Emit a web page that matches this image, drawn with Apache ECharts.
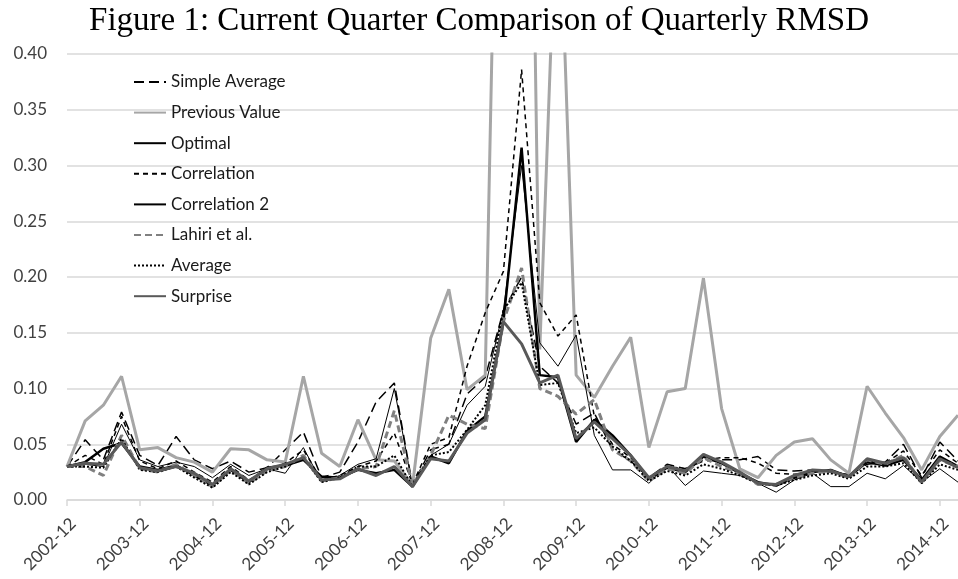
<!DOCTYPE html>
<html>
<head>
<meta charset="utf-8">
<script src="https://cdn.jsdelivr.net/npm/echarts@6/dist/echarts.min.js"></script>
<style>
  html, body { margin: 0; padding: 0; background: #fff; }
  #chart { width: 958px; height: 579px; }
</style>
</head>
<body>
<div id="chart"></div>
<script>
  const quarters = [
    '2002-12', '2003-03', '2003-06', '2003-09', '2003-12', '2004-03', '2004-06', '2004-09', '2004-12', '2005-03',
    '2005-06', '2005-09', '2005-12', '2006-03', '2006-06', '2006-09', '2006-12', '2007-03', '2007-06', '2007-09',
    '2007-12', '2008-03', '2008-06', '2008-09', '2008-12', '2009-03', '2009-06', '2009-09', '2009-12', '2010-03',
    '2010-06', '2010-09', '2010-12', '2011-03', '2011-06', '2011-09', '2011-12', '2012-03', '2012-06', '2012-09',
    '2012-12', '2013-03', '2013-06', '2013-09', '2013-12', '2014-03', '2014-06', '2014-09', '2014-12', '2015-03'
  ]
  const yTicks = [0, 0.05, 0.1, 0.15, 0.2, 0.25, 0.3, 0.35, 0.4]

  const simpleAverage = [
    0.030, 0.054, 0.036, 0.079, 0.040, 0.031, 0.057, 0.036, 0.028, 0.035,
    0.025, 0.029, 0.045, 0.061, 0.020, 0.025, 0.052, 0.088, 0.105, 0.013,
    0.045, 0.050, 0.095, 0.110, 0.170, 0.200, 0.120, 0.105, 0.068, 0.078,
    0.045, 0.035, 0.020, 0.032, 0.028, 0.035, 0.036, 0.036, 0.039, 0.027,
    0.026, 0.027, 0.025, 0.023, 0.032, 0.034, 0.050, 0.020, 0.052, 0.035
  ]
  const previousValue = [
    0.030, 0.071, 0.085, 0.111, 0.045, 0.047, 0.038, 0.034, 0.025, 0.046,
    0.045, 0.036, 0.034, 0.111, 0.042, 0.030, 0.072, 0.036, 0.035, 0.013,
    0.145, 0.189, 0.099, 0.112, 0.900, 1.200, 0.135, 0.580, 0.112, 0.092,
    0.120, 0.146, 0.047, 0.097, 0.100, 0.199, 0.082, 0.028, 0.020, 0.040,
    0.052, 0.055, 0.036, 0.024, 0.102, 0.078, 0.056, 0.027, 0.057, 0.076
  ]
  const optimal = [
    0.030, 0.034, 0.046, 0.051, 0.030, 0.027, 0.031, 0.022, 0.013, 0.027,
    0.016, 0.029, 0.031, 0.036, 0.021, 0.020, 0.027, 0.024, 0.027, 0.012,
    0.039, 0.033, 0.062, 0.075, 0.160, 0.316, 0.112, 0.110, 0.052, 0.072,
    0.058, 0.040, 0.019, 0.029, 0.025, 0.039, 0.033, 0.024, 0.016, 0.013,
    0.020, 0.025, 0.027, 0.021, 0.034, 0.031, 0.036, 0.018, 0.039, 0.030
  ]
  const correlation = [
    0.030, 0.040, 0.032, 0.075, 0.035, 0.028, 0.035, 0.025, 0.016, 0.030,
    0.018, 0.027, 0.033, 0.045, 0.018, 0.022, 0.030, 0.035, 0.060, 0.014,
    0.050, 0.056, 0.120, 0.168, 0.205, 0.386, 0.177, 0.147, 0.166, 0.075,
    0.050, 0.038, 0.020, 0.030, 0.028, 0.036, 0.038, 0.038, 0.033, 0.024,
    0.023, 0.025, 0.026, 0.022, 0.035, 0.033, 0.044, 0.022, 0.045, 0.033
  ]
  const correlation2 = [
    0.030, 0.032, 0.030, 0.068, 0.036, 0.030, 0.034, 0.030, 0.020, 0.032,
    0.022, 0.028, 0.024, 0.047, 0.016, 0.022, 0.032, 0.037, 0.100, 0.013,
    0.040, 0.050, 0.085, 0.102, 0.170, 0.300, 0.141, 0.120, 0.148, 0.058,
    0.027, 0.027, 0.015, 0.031, 0.013, 0.026, 0.024, 0.022, 0.015, 0.007,
    0.018, 0.024, 0.012, 0.012, 0.024, 0.019, 0.031, 0.016, 0.028, 0.016
  ]
  const lahiri = [
    0.030, 0.030, 0.022, 0.058, 0.028, 0.025, 0.032, 0.022, 0.012, 0.027,
    0.015, 0.026, 0.030, 0.040, 0.017, 0.020, 0.028, 0.030, 0.080, 0.013,
    0.040, 0.076, 0.068, 0.064, 0.160, 0.208, 0.100, 0.093, 0.077, 0.090,
    0.045, 0.035, 0.017, 0.028, 0.024, 0.038, 0.030, 0.024, 0.014, 0.014,
    0.020, 0.024, 0.026, 0.020, 0.036, 0.032, 0.040, 0.015, 0.036, 0.030
  ]
  const average = [
    0.030, 0.030, 0.029, 0.055, 0.027, 0.025, 0.030, 0.020, 0.011, 0.025,
    0.014, 0.025, 0.030, 0.038, 0.016, 0.020, 0.030, 0.030, 0.040, 0.012,
    0.040, 0.043, 0.063, 0.085, 0.170, 0.195, 0.103, 0.105, 0.060, 0.065,
    0.048, 0.035, 0.017, 0.026, 0.022, 0.032, 0.028, 0.022, 0.015, 0.013,
    0.018, 0.022, 0.024, 0.019, 0.030, 0.030, 0.033, 0.015, 0.032, 0.027
  ]
  const surprise = [
    0.030, 0.033, 0.032, 0.052, 0.029, 0.026, 0.030, 0.024, 0.014, 0.028,
    0.017, 0.028, 0.032, 0.038, 0.018, 0.019, 0.028, 0.022, 0.030, 0.012,
    0.037, 0.035, 0.060, 0.072, 0.160, 0.140, 0.105, 0.112, 0.055, 0.070,
    0.055, 0.040, 0.020, 0.030, 0.026, 0.041, 0.034, 0.025, 0.015, 0.014,
    0.022, 0.027, 0.026, 0.021, 0.037, 0.033, 0.038, 0.016, 0.037, 0.029
  ]

  const axisFont = 'Lato, "Open Sans", sans-serif'
  const gridColor = '#d9d9d9'

  function makeLine(name, data, color, width, type) {
    return {
      name: name,
      type: 'line',
      data: data,
      symbol: 'none',
      showSymbol: false,
      clip: true,
      lineStyle: { color: color, width: width, type: type },
      itemStyle: { color: color },
      emphasis: { disabled: true }
    }
  }

  const myChart = echarts.init(document.getElementById('chart'), null, { renderer: 'canvas' })
  const option = {
    backgroundColor: '#fff',
    animation: false,
    title: {
      text: 'Figure 1: Current Quarter Comparison of Quarterly RMSD',
      left: 'center',
      top: 0,
      textStyle: {
        fontFamily: '"Liberation Serif", serif',
        fontWeight: 'normal',
        fontSize: 33,
        color: '#000'
      }
    },
    legend: {
      orient: 'vertical',
      left: 133,
      top: 72,
      padding: 0,
      itemWidth: 32,
      itemHeight: 14,
      itemGap: 10.6,
      // hide the marker dot, keep only the line sample
      itemStyle: { opacity: 0 },
      textStyle: {
        fontFamily: axisFont,
        fontSize: 17,
        lineHeight: 20,
        color: '#1a1a1a'
      },
      data: ['Simple Average', 'Previous Value', 'Optimal', 'Correlation', 'Correlation 2', 'Lahiri et al.', 'Average', 'Surprise']
    },
    grid: {
      left: 67,
      right: 0,
      top: 54,
      bottom: 79,
      containLabel: false
    },
    xAxis: {
      type: 'category',
      data: quarters,
      boundaryGap: false,
      axisLine: { lineStyle: { color: gridColor, width: 1.5 } },
      axisTick: {
        show: true,
        interval: 3,
        length: 6,
        lineStyle: { color: gridColor, width: 1.5 }
      },
      axisLabel: {
        interval: 3,
        rotate: 45,
        margin: 15,
        verticalAlign: 'top',
        fontFamily: axisFont,
        fontSize: 17,
        color: '#404040'
      },
      splitLine: { show: false }
    },
    yAxis: {
      type: 'value',
      min: yTicks[0],
      max: yTicks[yTicks.length - 1],
      interval: 0.05,
      axisLine: { show: false },
      axisTick: { show: false },
      axisLabel: {
        margin: 20,
        fontFamily: axisFont,
        fontSize: 17,
        color: '#404040',
        formatter: (v) => v.toFixed(2)
      },
      splitLine: { lineStyle: { color: gridColor, width: 1.5 } }
    },
    series: [
      makeLine('Simple Average', simpleAverage, '#000', 1.5, [10, 5]),
      makeLine('Previous Value', previousValue, '#a6a6a6', 3, 'solid'),
      makeLine('Optimal', optimal, '#000', 2.5, 'solid'),
      makeLine('Correlation', correlation, '#000', 1.5, [5, 4]),
      makeLine('Correlation 2', correlation2, '#000', 1, 'solid'),
      makeLine('Lahiri et al.', lahiri, '#808080', 3, [7, 4]),
      makeLine('Average', average, '#000', 2, [2, 2]),
      makeLine('Surprise', surprise, '#595959', 3, 'solid')
    ]
  }
  myChart.setOption(option)
</script>
</body>
</html>
